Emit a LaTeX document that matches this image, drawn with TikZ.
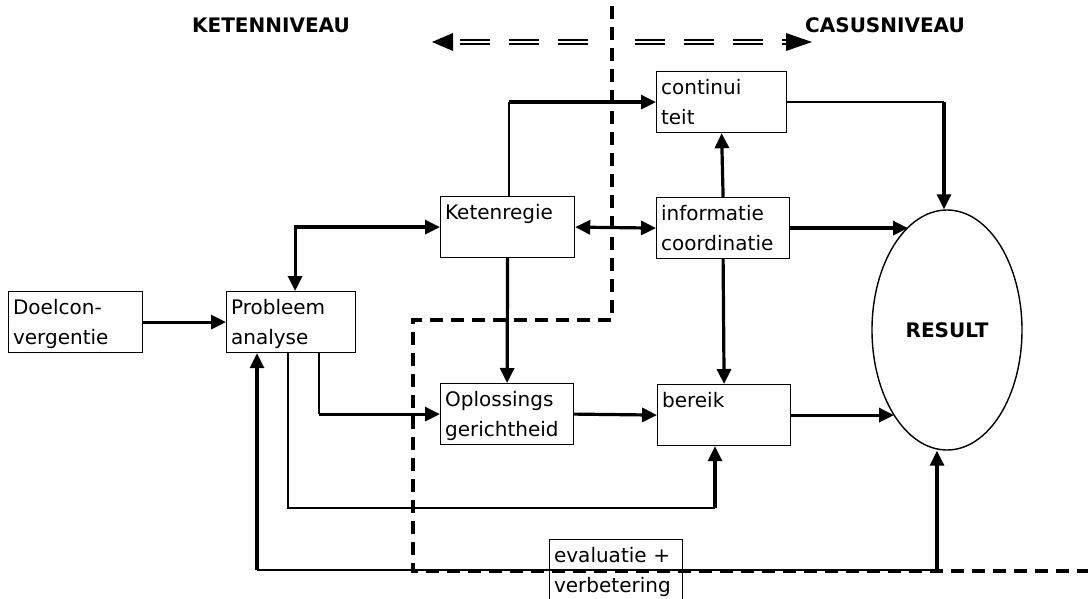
\documentclass[tikz,border=0pt]{standalone}
\usepackage{fontspec}
\setmainfont{DejaVu Sans}
\usetikzlibrary{arrows.meta,shapes.geometric}
\tikzset{
	blok/.style={draw,line width=1.2pt,rectangle,anchor=north west,align=left,inner xsep=4.5pt,inner ysep=4pt,text height=19pt,text depth=34pt,font=\fontsize{20}{30}\selectfont},
	kop/.style={font=\fontsize{20}{24}\selectfont\bfseries},
	pijl/.style={line width=3.2pt,->},
	dun/.style={line width=1.5pt},
	grens/.style={line width=4pt,dash pattern=on 13pt off 8pt},
	dubbel/.style={double,line width=2.2pt,double distance=2.5pt,dash pattern=on 29.5pt off 19.5pt}
}
\begin{document}
\begin{tikzpicture}[x=1pt,y=-1pt,>={Triangle[length=15pt,width=14pt]}]
	\useasboundingbox (0,0) rectangle (1088,599);
	\node[kop] (keten) at (271,25) {KETENNIVEAU};
	\node[kop] (casus) at (885,25) {CASUSNIVEAU};
	\draw[dubbel] (460,42)--(590,42);
	\draw[dubbel] (635,42)--(790,42);
	\fill (432,42)--(453,33)--(453,51)--cycle;
	\fill (812,42)--(786,33)--(786,51)--cycle;
	\draw[grens] (612,6)--(612,320)--(413,320)--(413,571)--(1088,571);
	\node[blok,text width=125pt] (doel) at (8,291) {Doelcon-\\vergentie};
	\node[blok,text width=120pt] (probleem) at (226,291) {Probleem\\analyse};
	\node[blok,text width=125pt] (ketenregie) at (440,196) {Ketenregie};
	\node[blok,text width=124pt] (oplossing) at (440,383) {Oplossings\\gerichtheid};
	\node[blok,text width=121pt] (continuiteit) at (656,71) {continui\\teit};
	\node[blok,text width=124pt] (informatie) at (656,197) {informatie\\coordinatie};
	\node[blok,text width=124pt] (bereik) at (657,384) {bereik};
	\node[blok,text width=124pt,text depth=33pt] (evaluatie) at (549,539) {evaluatie +\\verbetering};
	\node[draw,ellipse,line width=1.4pt,minimum width=150pt,minimum height=240pt,inner sep=0pt,font=\fontsize{20}{24}\selectfont\bfseries] (result) at (947,330) {RESULT};
	\coordinate (kc) at (509,0 |- continuiteit.west);
	\coordinate (cr) at (944,0 |- continuiteit.east);
	\coordinate (ir) at (908,0 |- informatie.east);
	\coordinate (br) at (894,0 |- bereik.east);
	\coordinate (po) at (319,0 |- oplossing.west);
	\coordinate (pb1) at (288,508);
	\coordinate (pb2) at (715,508);
	\coordinate (evL) at (257,570);
	\coordinate (evR) at (937,570);
	\draw[pijl] (doel.east)--(probleem.west);
	\draw[pijl,<->] ([xshift=4pt]probleem.north) |- (ketenregie.west);
	\draw[dun] (kc |- ketenregie.north)--(kc);
	\draw[pijl] (kc)--(continuiteit.west);
	\draw[pijl] (ketenregie.south)--(oplossing.north);
	\draw[pijl,<->] (ketenregie.east)--(informatie.west);
	\draw[pijl] (informatie.north)--(continuiteit.south);
	\draw[pijl] (informatie.south)--(bereik.north);
	\draw[pijl] (informatie.east)--(ir);
	\draw[dun] (continuiteit.east)--(cr);
	\draw[pijl] (cr)--(cr |- result.north);
	\draw[dun] (po |- probleem.south)--(po);
	\draw[pijl] (po)--(oplossing.west);
	\draw[pijl] (oplossing.east)--(bereik.west);
	\draw[pijl] (bereik.east)--(br);
	\draw[dun] (pb1 |- probleem.south)--(pb1)--(pb2);
	\draw[pijl] (pb2)--(pb2 |- bereik.south);
	\draw[dun] (evL)--(evR);
	\draw[pijl] (evL)--(evL |- probleem.south);
	\draw[pijl] (evR)--(evR |- result.south);
\end{tikzpicture}
\end{document}
